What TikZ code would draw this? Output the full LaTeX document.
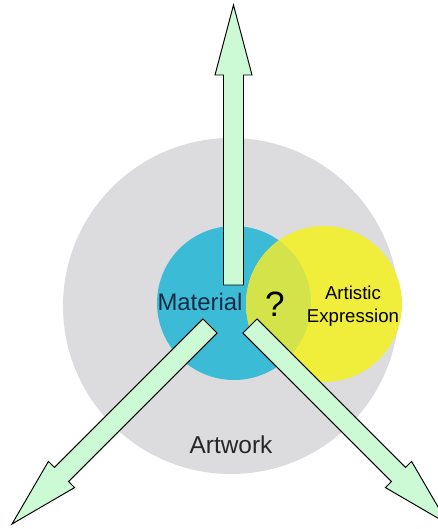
\documentclass[tikz,border=0pt]{standalone}
\usepackage{fontspec}
\setmainfont{Liberation Sans}
\definecolor{artgray}{HTML}{DCDCDE}
\definecolor{matblue}{HTML}{3CBBD7}
\definecolor{expyellow}{HTML}{F0EE3A}
\definecolor{overlapgreen}{HTML}{D5E34A}
\definecolor{arrowgreen}{HTML}{CCFAD4}
\definecolor{matink}{HTML}{1A2A45}
\begin{document}
\begin{tikzpicture}[x=0.02cm,y=-0.02cm,
  fatarrow/.style={fill=arrowgreen,draw=black,line width=0.55pt,line join=miter}]
\useasboundingbox (0,0) rectangle (438,529);
\fill[artgray](231,306)circle[radius=168];
\fill[matblue](234,303)circle[radius=77];
\fill[expyellow](324,304)circle[radius=78];
\begin{scope}
\clip (234,303)circle[radius=77];
\fill[overlapgreen](324,304)circle[radius=78];
\end{scope}
\foreach \px/\py/\ang in {233.5/285/0,210/326/135,250/326/-135}
  \draw[fatarrow,shift={(\px,\py)},rotate=\ang]
    (-10,0) -- (-10,-210) -- (-18.5,-210) -- (0,-280) -- (18.5,-210) -- (10,-210) -- (10,0) -- cycle;
\node[text=matink,font=\fontsize{13.6}{16}\selectfont] (mat) at (200,302) {Material};
\node[font=\fontsize{20}{24}\selectfont] (ques) at (275,304) {?};
\node[align=center,font=\fontsize{10.6}{13}\selectfont] (expr) at (353,306) {Artistic\\Expression};
\node[text=black!85,font=\fontsize{13.9}{16}\selectfont] (work) at (231,445) {Artwork};
\end{tikzpicture}
\end{document}
